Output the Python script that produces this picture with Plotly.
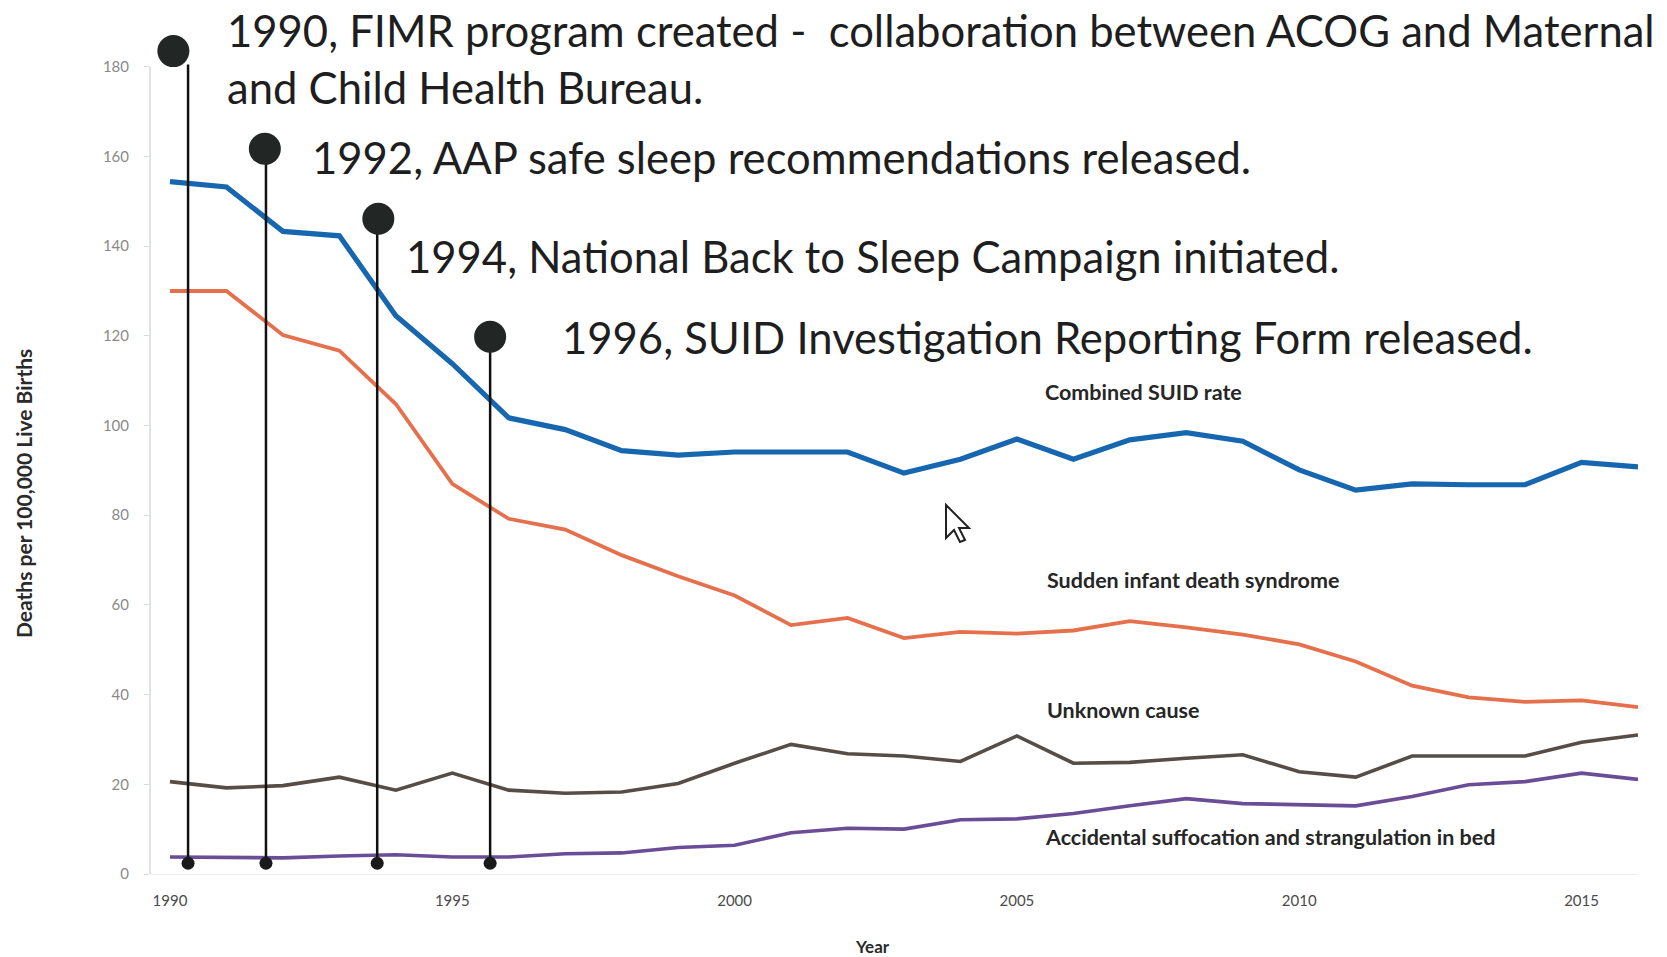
import plotly.graph_objects as go

# ---------------- data ----------------
years = list(range(1990, 2017))
combined_suid = [154.4, 153.2, 143.3, 142.3, 124.5, 113.8, 101.7, 99.1, 94.4, 93.4,
                 94.1, 94.0, 94.1, 89.4, 92.5, 97.0, 92.5, 96.8, 98.4, 96.5,
                 90.1, 85.6, 87.0, 86.8, 86.8, 91.8, 90.8]
sids = [130.0, 130.0, 120.2, 116.7, 104.8, 87.0, 79.2, 76.8, 71.1, 66.4,
        62.1, 55.5, 57.1, 52.6, 54.0, 53.6, 54.3, 56.4, 55.0, 53.4,
        51.2, 47.4, 42.0, 39.4, 38.4, 38.7, 37.2]
unknown_cause = [20.6, 19.2, 19.7, 21.6, 18.7, 22.5, 18.7, 18.0, 18.3, 20.2,
                 24.7, 28.9, 26.8, 26.3, 25.1, 30.8, 24.7, 24.9, 25.8, 26.6,
                 22.8, 21.6, 26.3, 26.3, 26.3, 29.4, 31.0]
ascb = [3.8, 3.7, 3.6, 4.0, 4.3, 3.8, 3.8, 4.5, 4.7, 5.9,
        6.4, 9.2, 10.2, 10.0, 12.1, 12.3, 13.5, 15.2, 16.8, 15.7,
        15.4, 15.2, 17.3, 19.9, 20.6, 22.5, 21.1]

series_names = ["Combined SUID rate", "Sudden infant death syndrome",
                "Unknown cause", "Accidental suffocation and strangulation in bed"]
series_colors = ["#1767b0", "#e5704b", "#564d46", "#6b4c97"]

# events: where the marker lines were drawn, and how high their dots sit
event_labels = ["1990, FIMR program created -  collaboration between ACOG and Maternal<br>and Child Health Bureau.",
                "1992, AAP safe sleep recommendations released.",
                "1994, National Back to Sleep Campaign initiated.",
                "1996, SUID Investigation Reporting Form released."]
event_line_x = [1990.32, 1991.70, 1993.67, 1995.67]
event_dot_x = [1990.06, 1991.68, 1993.69, 1995.67]
event_top = [183.5, 161.7, 146.1, 119.8]
event_base = [2.4, 2.4, 2.4, 2.4]

x_ticks = [1990, 1995, 2000, 2005, 2010, 2015]
y_ticks = [0, 20, 40, 60, 80, 100, 120, 140, 160, 180]
y_axis_top = 180

# ---------------- layout geometry ----------------
W, H = 1667, 957
ML, MR, MT, MB = 150, 29, 4, 83
PW, PH = W - ML - MR, H - MT - MB
Y_MAX = 194


def px(x):
    return (x - ML) / PW


def py(y):
    return (H - MB - y) / PH


fig = go.Figure()

series_values = [combined_suid, sids, unknown_cause, ascb]
widths = [5.2, 3.8, 3.6, 3.6]
for name, vals, col, w in zip(series_names, series_values, series_colors, widths):
    fig.add_trace(go.Scatter(x=years, y=vals, mode="lines", name=name,
                             line=dict(color=col, width=w), hoverinfo="skip"))

# event marker lines
for lx, dx, top, base in zip(event_line_x, event_dot_x, event_top, event_base):
    fig.add_trace(go.Scatter(x=[lx, lx], y=[base, top - 3], mode="lines",
                             line=dict(color="#111111", width=2.5),
                             hoverinfo="skip", cliponaxis=False))
    fig.add_trace(go.Scatter(x=[lx], y=[base], mode="markers",
                             marker=dict(color="#1a1a1a", size=13),
                             hoverinfo="skip", cliponaxis=False))
    fig.add_trace(go.Scatter(x=[dx], y=[top], mode="markers",
                             marker=dict(color="#222624", size=32),
                             hoverinfo="skip", cliponaxis=False))

annotations = []
ev_pos = [(225, 58), (310, 157), (404, 256), (560, 337)]
for text, (ax, ay) in zip(event_labels, ev_pos):
    annotations.append(dict(text=text, x=px(ax), y=py(ay), xref="paper", yref="paper",
                            xanchor="left", yanchor="middle", align="left", showarrow=False,
                            font=dict(family="Lato", size=43.6, color="#1e1e1e")))

lab_pos = [(1043, 392), (1045, 580), (1045, 710), (1043, 837)]
for text, (ax, ay) in zip(series_names, lab_pos):
    annotations.append(dict(text="<b>" + text + "</b>", x=px(ax), y=py(ay), xref="paper",
                            yref="paper", xanchor="left", yanchor="middle", showarrow=False,
                            font=dict(family="Lato", size=21.5, color="#262626")))

annotations.append(dict(text="<b>Deaths per 100,000 Live Births</b>", x=px(23), y=py(494),
                        xref="paper", yref="paper", textangle=-90, showarrow=False,
                        xanchor="center", yanchor="middle",
                        font=dict(family="Lato", size=21, color="#2a2a2a")))
annotations.append(dict(text="<b>Year</b>", x=px(872), y=py(946), xref="paper", yref="paper",
                        showarrow=False, xanchor="center", yanchor="middle",
                        font=dict(family="Lato", size=17, color="#2a2a2a")))

# mouse pointer captured in the original screenshot
cursor_pts = [(946, 505), (946, 538), (954, 530), (960, 542), (965, 540), (959, 528), (969, 528)]
cursor_path = "M " + " L ".join(f"{px(a):.5f},{py(b):.5f}" for a, b in cursor_pts) + " Z"

shapes = [
    dict(type="line", xref="paper", yref="y", x0=0, x1=0, y0=0, y1=y_axis_top,
         line=dict(color="#d5dae0", width=1.5)),
    dict(type="path", xref="paper", yref="paper", path=cursor_path,
         fillcolor="white", line=dict(color="#222222", width=2)),
]

fig.update_layout(
    width=W, height=H,
    margin=dict(l=ML, r=MR, t=MT, b=MB),
    paper_bgcolor="white", plot_bgcolor="white",
    showlegend=False,
    annotations=annotations,
    shapes=shapes,
    xaxis=dict(range=[1989.646, 2016], tickvals=x_ticks, ticktext=[str(t) for t in x_ticks],
               showgrid=False, zeroline=False, showline=True, linecolor="#eeeeee",
               ticks="", ticklabelstandoff=13,
               tickfont=dict(family="Lato", size=15, color="#4a4a4a")),
    yaxis=dict(range=[0, Y_MAX], tickvals=y_ticks, showgrid=False, zeroline=False,
               showline=False,
               ticks="outside", ticklen=5, tickcolor="#d5dae0", ticklabelstandoff=12,
               tickfont=dict(family="Lato", size=15, color="#8a8a8a")),
)

fig.write_html("out.html", config={"displayModeBar": False},
               post_script="document.body.style.margin='0px';")
